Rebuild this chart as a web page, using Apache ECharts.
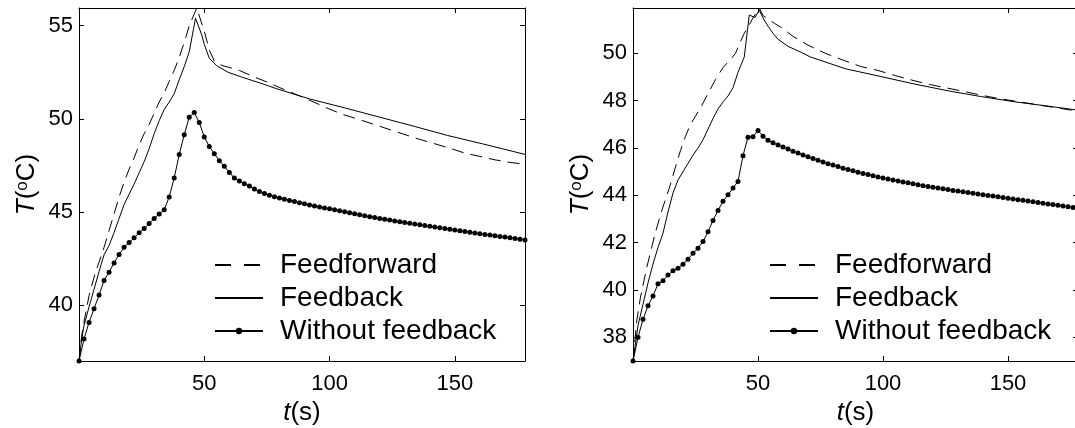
<!DOCTYPE html>
<html>
<head>
<meta charset="utf-8">
<script src="https://cdn.jsdelivr.net/npm/echarts@6.0.0/dist/echarts.min.js"></script>
<style>
html, body { margin: 0; padding: 0; background: #fff; }
#chart { width: 1075px; height: 428px; }
</style>
</head>
<body>
<div id="chart"></div>
<script>
// Temperature response, two cases side by side

const seriesNames = ['Feedforward', 'Feedback', 'Without feedback'];
const xTicks = [50, 100, 150];
const yTicksLeft = [40, 45, 50, 55];
const yTicksRight = [38, 40, 42, 44, 46, 48, 50];

// sample times of the marked curve (s)
const timeDots = [0, 2, 4, 6, 8, 10, 12, 14, 16, 18, 20, 22, 24, 26, 28, 30, 32, 34, 36, 38,
  40, 42, 44, 46, 48, 50, 52, 54, 56, 58, 60, 62, 64, 66, 68, 70, 72, 74, 76, 78,
  80, 82, 84, 86, 88, 90, 92, 94, 96, 98, 100, 102, 104, 106, 108, 110, 112, 114, 116, 118,
  120, 122, 124, 126, 128, 130, 132, 134, 136, 138, 140, 142, 144, 146, 148, 150, 152, 154, 156, 158,
  160, 162, 164, 166, 168, 170, 172, 174, 176, 178];

// left panel
const noFbLeft = [37.0, 38.18, 39.07, 39.80, 40.54, 41.32, 41.77, 42.26, 42.72, 43.10,
  43.36, 43.61, 43.88, 44.11, 44.38, 44.65, 44.89, 45.12, 45.80, 46.83,
  48.08, 49.15, 50.09, 50.34, 49.80, 49.03, 48.52, 48.13, 47.75, 47.46,
  47.12, 46.82, 46.66, 46.52, 46.39, 46.24, 46.10, 45.99, 45.90, 45.82,
  45.75, 45.68, 45.62, 45.56, 45.49, 45.44, 45.38, 45.32, 45.27, 45.22,
  45.17, 45.12, 45.07, 45.01, 44.96, 44.91, 44.85, 44.80, 44.75, 44.70,
  44.65, 44.61, 44.57, 44.52, 44.48, 44.44, 44.39, 44.35, 44.31, 44.27,
  44.23, 44.19, 44.15, 44.11, 44.07, 44.03, 43.99, 43.95, 43.91, 43.87,
  43.83, 43.79, 43.76, 43.72, 43.68, 43.65, 43.61, 43.58, 43.54, 43.49];

const ffLeftT = [0, 1, 2, 4, 6, 8, 10, 12, 14, 16, 18, 20, 22, 24, 26, 28, 30, 32, 34, 36,
  38, 40, 42, 44, 47, 50, 52, 54, 57, 64, 70, 75, 80, 85, 90, 95, 100, 105, 113, 120,
  127, 134, 141, 148, 154, 160, 166, 172, 178];
const ffLeftV = [37, 38.3, 39.1, 40.5, 41.5, 42.3, 43.1, 44.0, 44.9, 45.8, 46.6, 47.3, 47.9, 48.6, 49.2, 49.7, 50.3, 50.9, 51.4, 52.0,
  52.6, 53.3, 54.1, 55.0, 55.95, 54.7, 53.7, 53.1, 52.87, 52.6, 52.24, 51.98, 51.68, 51.4, 51.12, 50.82, 50.52, 50.25, 49.91, 49.6,
  49.29, 48.98, 48.7, 48.42, 48.16, 47.98, 47.8, 47.66, 47.56];

const fbLeftT = [0, 1, 2, 4, 6, 8, 10, 12, 14, 16, 18, 20, 22, 24, 26, 28, 30, 32, 34, 36,
  38, 40, 42, 44, 46.5, 49, 50, 52, 55, 59.5, 65, 73, 79, 92, 106, 120, 134, 147, 161, 178];
const fbLeftV = [37, 38.1, 38.9, 39.9, 40.85, 41.8, 42.7, 43.2, 43.9, 44.65, 45.4, 45.95, 46.5, 47.1, 47.7, 48.4, 49.2, 49.9, 50.5, 50.9,
  51.35, 52.1, 52.8, 53.6, 55.4, 54.5, 54.0, 53.25, 52.85, 52.5, 52.24, 51.89, 51.61, 51.07, 50.59, 50.09, 49.59, 49.11, 48.66, 48.09];

// right panel
const noFbRight = [37.0, 38.0, 38.76, 39.33, 39.75, 40.26, 40.39, 40.63, 40.81, 40.92,
  41.09, 41.30, 41.55, 41.77, 42.05, 42.46, 42.94, 43.36, 43.75, 44.03,
  44.31, 44.59, 45.68, 46.46, 46.48, 46.74, 46.50, 46.33, 46.22, 46.13,
  46.04, 45.96, 45.87, 45.79, 45.71, 45.63, 45.56, 45.48, 45.41, 45.34,
  45.28, 45.22, 45.15, 45.09, 45.04, 44.98, 44.93, 44.88, 44.83, 44.78,
  44.73, 44.69, 44.65, 44.61, 44.57, 44.53, 44.49, 44.45, 44.41, 44.38,
  44.34, 44.31, 44.28, 44.25, 44.21, 44.18, 44.15, 44.12, 44.09, 44.06,
  44.03, 44.00, 43.97, 43.94, 43.91, 43.88, 43.85, 43.82, 43.79, 43.76,
  43.73, 43.70, 43.67, 43.64, 43.61, 43.58, 43.55, 43.52, 43.49, 43.46];

const ffRightT = [0, 1.5, 3, 5.5, 8.8, 11.5, 14.5, 17, 19, 21, 23, 25, 27, 30, 33, 36, 39, 41, 43, 44.5,
  46, 48, 50.5, 52, 56.6, 60, 64, 70, 77, 85, 91, 98, 105, 112, 119, 126, 133, 140, 146, 153,
  160, 167, 178];
const ffRightV = [37, 38.7, 39.7, 40.95, 42.37, 43.36, 44.3, 45.2, 45.9, 46.5, 47.0, 47.35, 47.7, 48.3, 48.9, 49.4, 49.75, 50.0, 50.5, 50.85,
  51.1, 51.5, 51.92, 51.6, 51.27, 51.05, 50.72, 50.35, 50.0, 49.68, 49.45, 49.28, 49.06, 48.86, 48.68, 48.53, 48.38, 48.22, 48.1, 47.98,
  47.86, 47.74, 47.56];

const fbRightT = [0, 2, 4, 6, 8, 10, 12, 14, 16, 18, 20, 22, 24, 26, 28, 30, 32, 34, 36, 38,
  40, 42, 44.5, 46.5, 48.8, 50.5, 52, 54, 56, 58, 62, 67, 71, 78, 85, 98, 112, 126, 139, 153,
  167, 178];
const fbRightV = [37, 38.5, 39.4, 40.3, 41.1, 41.8, 42.4, 43.3, 44.1, 44.65, 45.0, 45.35, 45.7, 46.0, 46.35, 46.8, 47.25, 47.65, 47.95, 48.2,
  48.55, 49.2, 49.85, 51.62, 51.52, 51.83, 51.5, 51.15, 50.85, 50.6, 50.3, 50.06, 49.85, 49.6, 49.35, 49.05, 48.72, 48.42, 48.18, 47.95,
  47.76, 47.6];

const FONT = 'Liberation Sans';

function zip(ts, vs) {
    return ts.map((t, i) => [t, vs[i]]);
}

function makeXAxes(grid) {
    const common = {
        type: 'value', gridIndex: grid, min: 0, max: 178,
        splitLine: { show: false },
        axisLine: { show: true, onZero: false, lineStyle: { color: '#000', width: 1 } },
        axisTick: { show: true, inside: true, length: 5, customValues: xTicks, lineStyle: { color: '#000' } }
    };
    return [
        Object.assign({}, common, {
            position: 'bottom',
            axisLabel: { customValues: xTicks, color: '#000', fontSize: 22, fontFamily: FONT, margin: 12 },
            name: '{it|t}(s)', nameLocation: 'middle', nameGap: 35,
            nameTextStyle: { color: '#000', fontSize: 26, fontFamily: FONT,
                rich: { it: { fontStyle: 'italic', fontSize: 26, fontFamily: FONT, color: '#000' } } }
        }),
        Object.assign({}, common, { position: 'top', axisLabel: { show: false } })
    ];
}

function makeYAxes(grid, yMax, ticks) {
    const common = {
        type: 'value', gridIndex: grid, min: 37, max: yMax,
        splitLine: { show: false },
        axisLine: { show: true, onZero: false, lineStyle: { color: '#000', width: 1 } },
        axisTick: { show: true, inside: true, length: 5, customValues: ticks, lineStyle: { color: '#000' } }
    };
    return [
        Object.assign({}, common, {
            position: 'left',
            axisLabel: { customValues: ticks, color: '#000', fontSize: 22, fontFamily: FONT, margin: 6 },
            name: '{it|T}({sup|o}C)', nameLocation: 'middle', nameGap: 39,
            nameTextStyle: { color: '#000', fontSize: 26, fontFamily: FONT, lineHeight: 26,
                rich: {
                    it: { fontStyle: 'italic', fontSize: 26, lineHeight: 26, fontFamily: FONT, color: '#000' },
                    sup: { fontSize: 17, lineHeight: 11, fontFamily: FONT, color: '#000', verticalAlign: 'top' }
                } }
        }),
        Object.assign({}, common, { position: 'right', axisLabel: { show: false } })
    ];
}

function panelSeries(grid, ffT, ffV, fbT, fbV, noFb) {
    const axis = grid * 2;
    return [
        {
            name: seriesNames[0], type: 'line', xAxisIndex: axis, yAxisIndex: axis,
            data: zip(ffT, ffV), symbol: 'none',
            lineStyle: { color: '#000', width: 1, type: [12, 7] }, itemStyle: { color: '#000' }
        },
        {
            name: seriesNames[1], type: 'line', xAxisIndex: axis, yAxisIndex: axis,
            data: zip(fbT, fbV), symbol: 'none',
            lineStyle: { color: '#000', width: 1 }, itemStyle: { color: '#000' }
        },
        {
            name: seriesNames[2], type: 'line', xAxisIndex: axis, yAxisIndex: axis,
            data: zip(timeDots, noFb), symbol: 'circle', symbolSize: 5, showAllSymbol: true,
            lineStyle: { color: '#000', width: 1 }, itemStyle: { color: '#000' }
        }
    ];
}

function makeLegend(left) {
    return {
        // plain lines for the first two entries, line with dot for the third
        data: [
            { name: seriesNames[0], itemStyle: { opacity: 0 }, lineStyle: { type: [16, 13] } },
            { name: seriesNames[1], itemStyle: { opacity: 0 } },
            { name: seriesNames[2] }
        ],
        orient: 'vertical', left: left, top: 250, padding: 0,
        itemWidth: 48, itemHeight: 8, itemGap: 3, selectedMode: false,
        textStyle: { color: '#000', fontSize: 28, fontFamily: FONT, lineHeight: 30, padding: [0, 0, 0, 12] }
    };
}

const chart = echarts.init(document.getElementById('chart'), null, { renderer: 'canvas' });

chart.setOption({
    animation: false,
    backgroundColor: '#fff',
    grid: [
        // fixed plot boxes; the right one runs past the window edge as in the figure
        { left: 79, top: 8, width: 446, height: 353, outerBoundsMode: 'none' },
        { left: 633, top: 8, width: 445, height: 353, outerBoundsMode: 'none' }
    ],
    xAxis: makeXAxes(0).concat(makeXAxes(1)),
    yAxis: makeYAxes(0, 55.95, yTicksLeft).concat(makeYAxes(1, 51.92, yTicksRight)),
    legend: [makeLegend(214), makeLegend(769)],
    series: panelSeries(0, ffLeftT, ffLeftV, fbLeftT, fbLeftV, noFbLeft)
        .concat(panelSeries(1, ffRightT, ffRightV, fbRightT, fbRightV, noFbRight))
});
</script>
</body>
</html>
